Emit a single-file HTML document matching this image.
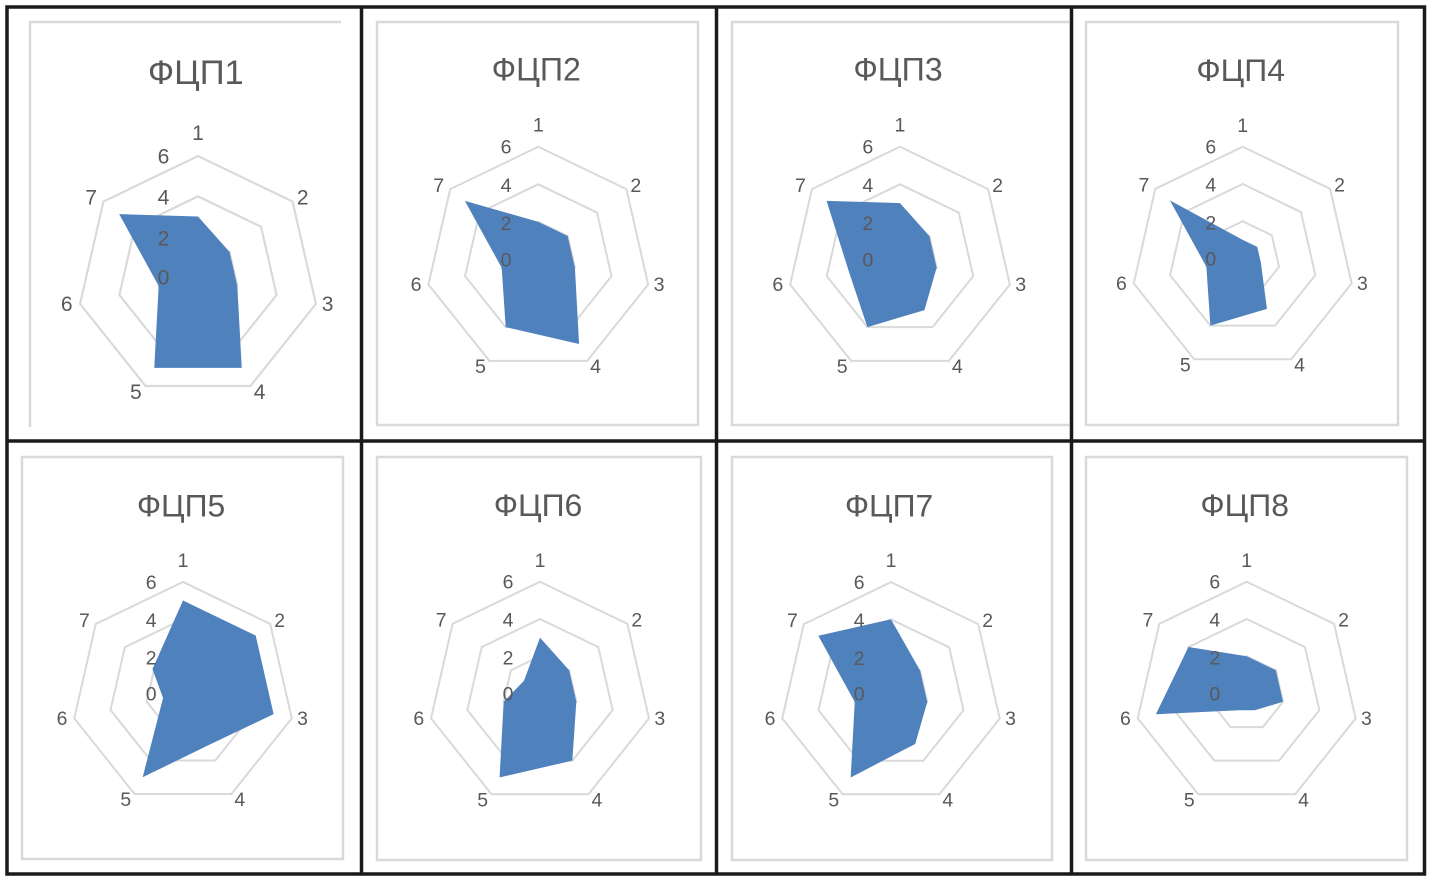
<!DOCTYPE html>
<html><head><meta charset="utf-8">
<style>
html,body{margin:0;padding:0;background:#fff;}
svg{display:block;}
text{font-family:"Liberation Sans","DejaVu Sans",sans-serif;fill:#595959;}
.t{font-size:32px;}
.a{font-size:19.5px;}
.s{font-size:19.5px;}
</style></head>
<body>
<svg id="root" width="1433" height="881" viewBox="0 0 1433 881" xmlns="http://www.w3.org/2000/svg">
<rect x="0" y="0" width="1433" height="881" fill="#fff"/>
<g fill="none" stroke="#d9d9d9" stroke-width="2.5">
<path d="M30 427 V22 H341"/>
<rect x="377" y="22" width="321" height="403"/>
<path d="M1069 22 H732 V425 H1069"/>
<rect x="1086" y="22" width="312" height="403"/>
<rect x="22" y="457" width="321" height="402"/>
<rect x="377" y="457" width="324" height="403"/>
<rect x="732" y="457" width="320" height="403"/>
<rect x="1086" y="457" width="321" height="403"/>
</g>

<g id="c1" transform="translate(198,277) scale(1.08)">
<text class="t" x="-2" y="-189" text-anchor="middle" dominant-baseline="central">ФЦП1</text>
</g>
<g id="c2" transform="translate(538.3,259.4) scale(1.006)">
<text class="t" x="-2" y="-189" text-anchor="middle" dominant-baseline="central">ФЦП2</text>
</g>
<g id="c3" transform="translate(900,259.4) scale(1.006)">
<text class="t" x="-2" y="-189" text-anchor="middle" dominant-baseline="central">ФЦП3</text>
</g>
<g id="c4" transform="translate(1242.7,258.5) scale(0.998)">
<text class="t" x="-2" y="-189" text-anchor="middle" dominant-baseline="central">ФЦП4</text>
</g>
<g id="c5" transform="translate(183,693.5) scale(0.996)">
<text class="t" x="-2" y="-189" text-anchor="middle" dominant-baseline="central">ФЦП5</text>
</g>
<g id="c6" transform="translate(540,693.5) scale(0.998)">
<text class="t" x="-2" y="-189" text-anchor="middle" dominant-baseline="central">ФЦП6</text>
</g>
<g id="c7" transform="translate(891,693.7) scale(0.996)">
<text class="t" x="-2" y="-189" text-anchor="middle" dominant-baseline="central">ФЦП7</text>
</g>
<g id="c8" transform="translate(1246.7,693.5) scale(0.998)">
<text class="t" x="-2" y="-189" text-anchor="middle" dominant-baseline="central">ФЦП8</text>
</g>

<g id="lbls">
<g transform="translate(198,277) scale(1.08)">
<text class="s" x="-32" y="-111" text-anchor="middle" dominant-baseline="central">6</text><text class="s" x="-32" y="-73" text-anchor="middle" dominant-baseline="central">4</text><text class="s" x="-32" y="-35" text-anchor="middle" dominant-baseline="central">2</text><text class="s" x="-32" y="1" text-anchor="middle" dominant-baseline="central">0</text>
<text class="a" x="0" y="-133" text-anchor="middle" dominant-baseline="central">1</text><text class="a" x="97" y="-73" text-anchor="middle" dominant-baseline="central">2</text><text class="a" x="120" y="25.5" text-anchor="middle" dominant-baseline="central">3</text><text class="a" x="57" y="107" text-anchor="middle" dominant-baseline="central">4</text><text class="a" x="-57.5" y="107" text-anchor="middle" dominant-baseline="central">5</text><text class="a" x="-121.5" y="25.5" text-anchor="middle" dominant-baseline="central">6</text><text class="a" x="-99" y="-73" text-anchor="middle" dominant-baseline="central">7</text>
</g>
<g transform="translate(538.3,259.4) scale(1.006)">
<text class="s" x="-32" y="-111" text-anchor="middle" dominant-baseline="central">6</text><text class="s" x="-32" y="-73" text-anchor="middle" dominant-baseline="central">4</text><text class="s" x="-32" y="-35" text-anchor="middle" dominant-baseline="central">2</text><text class="s" x="-32" y="1" text-anchor="middle" dominant-baseline="central">0</text>
<text class="a" x="0" y="-133" text-anchor="middle" dominant-baseline="central">1</text><text class="a" x="97" y="-73" text-anchor="middle" dominant-baseline="central">2</text><text class="a" x="120" y="25.5" text-anchor="middle" dominant-baseline="central">3</text><text class="a" x="57" y="107" text-anchor="middle" dominant-baseline="central">4</text><text class="a" x="-57.5" y="107" text-anchor="middle" dominant-baseline="central">5</text><text class="a" x="-121.5" y="25.5" text-anchor="middle" dominant-baseline="central">6</text><text class="a" x="-99" y="-73" text-anchor="middle" dominant-baseline="central">7</text>
</g>
<g transform="translate(900,259.4) scale(1.006)">
<text class="s" x="-32" y="-111" text-anchor="middle" dominant-baseline="central">6</text><text class="s" x="-32" y="-73" text-anchor="middle" dominant-baseline="central">4</text><text class="s" x="-32" y="-35" text-anchor="middle" dominant-baseline="central">2</text><text class="s" x="-32" y="1" text-anchor="middle" dominant-baseline="central">0</text>
<text class="a" x="0" y="-133" text-anchor="middle" dominant-baseline="central">1</text><text class="a" x="97" y="-73" text-anchor="middle" dominant-baseline="central">2</text><text class="a" x="120" y="25.5" text-anchor="middle" dominant-baseline="central">3</text><text class="a" x="57" y="107" text-anchor="middle" dominant-baseline="central">4</text><text class="a" x="-57.5" y="107" text-anchor="middle" dominant-baseline="central">5</text><text class="a" x="-121.5" y="25.5" text-anchor="middle" dominant-baseline="central">6</text><text class="a" x="-99" y="-73" text-anchor="middle" dominant-baseline="central">7</text>
</g>
<g transform="translate(1242.7,258.5) scale(0.998)">
<text class="s" x="-32" y="-111" text-anchor="middle" dominant-baseline="central">6</text><text class="s" x="-32" y="-73" text-anchor="middle" dominant-baseline="central">4</text><text class="s" x="-32" y="-35" text-anchor="middle" dominant-baseline="central">2</text><text class="s" x="-32" y="1" text-anchor="middle" dominant-baseline="central">0</text>
<text class="a" x="0" y="-133" text-anchor="middle" dominant-baseline="central">1</text><text class="a" x="97" y="-73" text-anchor="middle" dominant-baseline="central">2</text><text class="a" x="120" y="25.5" text-anchor="middle" dominant-baseline="central">3</text><text class="a" x="57" y="107" text-anchor="middle" dominant-baseline="central">4</text><text class="a" x="-57.5" y="107" text-anchor="middle" dominant-baseline="central">5</text><text class="a" x="-121.5" y="25.5" text-anchor="middle" dominant-baseline="central">6</text><text class="a" x="-99" y="-73" text-anchor="middle" dominant-baseline="central">7</text>
</g>
<g transform="translate(183,693.5) scale(0.996)">
<text class="s" x="-32" y="-111" text-anchor="middle" dominant-baseline="central">6</text><text class="s" x="-32" y="-73" text-anchor="middle" dominant-baseline="central">4</text><text class="s" x="-32" y="-35" text-anchor="middle" dominant-baseline="central">2</text><text class="s" x="-32" y="1" text-anchor="middle" dominant-baseline="central">0</text>
<text class="a" x="0" y="-133" text-anchor="middle" dominant-baseline="central">1</text><text class="a" x="97" y="-73" text-anchor="middle" dominant-baseline="central">2</text><text class="a" x="120" y="25.5" text-anchor="middle" dominant-baseline="central">3</text><text class="a" x="57" y="107" text-anchor="middle" dominant-baseline="central">4</text><text class="a" x="-57.5" y="107" text-anchor="middle" dominant-baseline="central">5</text><text class="a" x="-121.5" y="25.5" text-anchor="middle" dominant-baseline="central">6</text><text class="a" x="-99" y="-73" text-anchor="middle" dominant-baseline="central">7</text>
</g>
<g transform="translate(540,693.5) scale(0.998)">
<text class="s" x="-32" y="-111" text-anchor="middle" dominant-baseline="central">6</text><text class="s" x="-32" y="-73" text-anchor="middle" dominant-baseline="central">4</text><text class="s" x="-32" y="-35" text-anchor="middle" dominant-baseline="central">2</text><text class="s" x="-32" y="1" text-anchor="middle" dominant-baseline="central">0</text>
<text class="a" x="0" y="-133" text-anchor="middle" dominant-baseline="central">1</text><text class="a" x="97" y="-73" text-anchor="middle" dominant-baseline="central">2</text><text class="a" x="120" y="25.5" text-anchor="middle" dominant-baseline="central">3</text><text class="a" x="57" y="107" text-anchor="middle" dominant-baseline="central">4</text><text class="a" x="-57.5" y="107" text-anchor="middle" dominant-baseline="central">5</text><text class="a" x="-121.5" y="25.5" text-anchor="middle" dominant-baseline="central">6</text><text class="a" x="-99" y="-73" text-anchor="middle" dominant-baseline="central">7</text>
</g>
<g transform="translate(891,693.7) scale(0.996)">
<text class="s" x="-32" y="-111" text-anchor="middle" dominant-baseline="central">6</text><text class="s" x="-32" y="-73" text-anchor="middle" dominant-baseline="central">4</text><text class="s" x="-32" y="-35" text-anchor="middle" dominant-baseline="central">2</text><text class="s" x="-32" y="1" text-anchor="middle" dominant-baseline="central">0</text>
<text class="a" x="0" y="-133" text-anchor="middle" dominant-baseline="central">1</text><text class="a" x="97" y="-73" text-anchor="middle" dominant-baseline="central">2</text><text class="a" x="120" y="25.5" text-anchor="middle" dominant-baseline="central">3</text><text class="a" x="57" y="107" text-anchor="middle" dominant-baseline="central">4</text><text class="a" x="-57.5" y="107" text-anchor="middle" dominant-baseline="central">5</text><text class="a" x="-121.5" y="25.5" text-anchor="middle" dominant-baseline="central">6</text><text class="a" x="-99" y="-73" text-anchor="middle" dominant-baseline="central">7</text>
</g>
<g transform="translate(1246.7,693.5) scale(0.998)">
<text class="s" x="-32" y="-111" text-anchor="middle" dominant-baseline="central">6</text><text class="s" x="-32" y="-73" text-anchor="middle" dominant-baseline="central">4</text><text class="s" x="-32" y="-35" text-anchor="middle" dominant-baseline="central">2</text><text class="s" x="-32" y="1" text-anchor="middle" dominant-baseline="central">0</text>
<text class="a" x="0" y="-133" text-anchor="middle" dominant-baseline="central">1</text><text class="a" x="97" y="-73" text-anchor="middle" dominant-baseline="central">2</text><text class="a" x="120" y="25.5" text-anchor="middle" dominant-baseline="central">3</text><text class="a" x="57" y="107" text-anchor="middle" dominant-baseline="central">4</text><text class="a" x="-57.5" y="107" text-anchor="middle" dominant-baseline="central">5</text><text class="a" x="-121.5" y="25.5" text-anchor="middle" dominant-baseline="central">6</text><text class="a" x="-99" y="-73" text-anchor="middle" dominant-baseline="central">7</text>
</g>
</g>

<g fill="none" stroke="#1a1a1a" stroke-width="3.5">
<rect x="7" y="7" width="1417.5" height="867"/>
<line x1="361.5" y1="7" x2="361.5" y2="874"/>
<line x1="716.5" y1="7" x2="716.5" y2="874"/>
<line x1="1071.5" y1="7" x2="1071.5" y2="874"/>
<line x1="7" y1="441" x2="1424.5" y2="441"/>
</g>
</svg>
<script>
(function(){
var NS="http://www.w3.org/2000/svg";
var R=112;
var dirs=[];
for(var k=0;k<7;k++){var t=k*2*Math.PI/7;dirs.push([Math.sin(t),-Math.cos(t)]);}
function pts(vals){return vals.map(function(v,i){var r=v/6*R;return (dirs[i][0]*r).toFixed(2)+","+(dirs[i][1]*r).toFixed(2);}).join(" ");}
var data={
c1:[3,2,2,5,5,2,5],
c2:[2,2,2,5,4,2,5],
c3:[3,2,2,3,4,2.8,5],
c4:[1,1,1,3,4,2,5],
c5:[5,5,5,3.1,5,1.1,2.1],
c6:[3,2,2,4,5,2,1.1],
c7:[4,2,2,3,5,2,5],
c8:[2,2,2,1,1,5,4]
};
for(var id in data){
  var g=document.getElementById(id);
  [6,4,2].forEach(function(v){
    var p=document.createElementNS(NS,"polygon");
    p.setAttribute("points",pts([v,v,v,v,v,v,v]));
    p.setAttribute("fill","none");p.setAttribute("stroke","#d9d9d9");p.setAttribute("stroke-width","2");
    g.appendChild(p);
  });
  var q=document.createElementNS(NS,"polygon");
  q.setAttribute("points",pts(data[id]));
  q.setAttribute("fill","#4f81bd");
  g.appendChild(q);
}
})();
</script>
</body></html>
